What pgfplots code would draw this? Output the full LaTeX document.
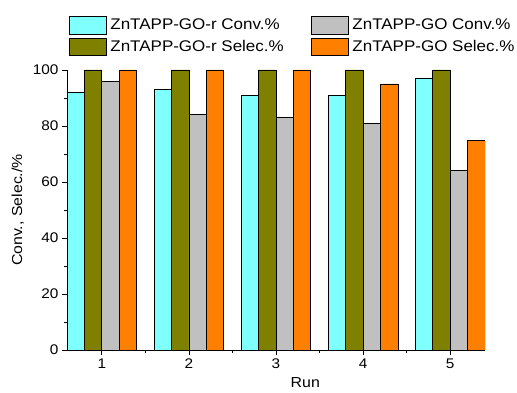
\documentclass[border=0pt]{standalone}
\usepackage{pgfplots}
\pgfplotsset{compat=1.18}
\usepackage{fontspec}
\setmainfont{Liberation Sans}[FakeStretch=1.1]
\definecolor{ccyan}{HTML}{80FFFF}
\definecolor{colive}{HTML}{808000}
\definecolor{cgray}{HTML}{C0C0C0}
\definecolor{corange}{HTML}{FF8000}
\begin{document}
\begin{tikzpicture}
\begin{axis}[
  scale only axis, width=418bp, height=280bp,
  xmin=0.6, xmax=5.4, ymin=0, ymax=100,
  axis lines*=left,
  axis line style={line width=0.8pt},
  ybar=0pt, bar width=17.4bp,
  xtick={1,2,3,4,5}, minor xtick={1.5,2.5,3.5,4.5},
  ytick={0,20,40,60,80,100}, minor ytick={10,30,50,70,90},
  tick align=outside, major tick length=5bp, minor tick length=3bp,
  tick style={black, line width=0.8pt},
  ticklabel style={font=\fontsize{14}{14}\selectfont},
  /pgf/number format/assume math mode=true,
  xlabel={Run}, ylabel={Conv., Selec./\%},
  label style={font=\fontsize{14.5}{14.5}\selectfont},
  xlabel style={at={(axis description cs:0.57,0)}, anchor=north, yshift=-24bp},
  ylabel shift={2bp},
  legend columns=2, transpose legend,
  legend cell align=left,
  legend style={at={(0,1)}, anchor=south west, xshift=2bp, yshift=14bp,
    draw=none, fill=none, inner sep=0pt, font=\fontsize{15.5}{15.5}\selectfont,
    nodes={inner sep=0.5bp},
    /tikz/every odd column/.append style={column sep=3bp},
    /tikz/every even column/.append style={column sep=27bp},
    row sep=3bp},
  legend image code/.code={\draw[#1, draw=black, line width=0.7pt] (0bp,-8.8bp) rectangle (37bp,8.8bp);},
]
\addplot[draw=black, line width=0.7pt, fill=ccyan] coordinates {(1,92) (2,93) (3,91) (4,91) (5,97)};
\addplot[draw=black, line width=0.7pt, fill=colive] coordinates {(1,100) (2,100) (3,100) (4,100) (5,100)};
\addplot[draw=black, line width=0.7pt, fill=cgray] coordinates {(1,96) (2,84) (3,83) (4,81) (5,64)};
\addplot[draw=black, line width=0.7pt, fill=corange] coordinates {(1,100) (2,100) (3,100) (4,95) (5,75)};
\legend{ZnTAPP-GO-r Conv.\%, ZnTAPP-GO-r Selec.\%, ZnTAPP-GO Conv.\%, ZnTAPP-GO Selec.\%}
\path (rel axis cs:0,0) ++(-67bp,-42bp) coordinate (bbsw);
\path (rel axis cs:1,1) ++(32bp,70bp) coordinate (bbne);
\end{axis}
\useasboundingbox (bbsw) rectangle (bbne);
\end{tikzpicture}
\end{document}
